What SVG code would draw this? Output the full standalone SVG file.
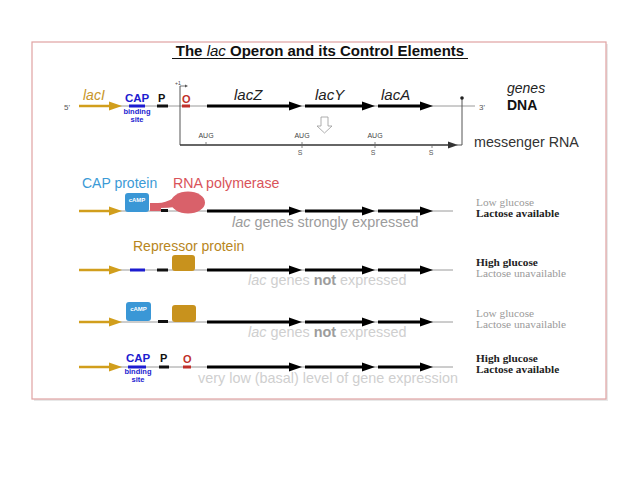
<svg xmlns="http://www.w3.org/2000/svg" width="638" height="478" viewBox="0 0 638 478">
<defs>
<style>
.s{font-family:"Liberation Sans",Arial,sans-serif}
.sf{font-family:"Liberation Serif","Times New Roman",serif;font-size:11.3px}
.thin{stroke:#9a9a9a;stroke-width:1}
.gene{stroke:#000;stroke-width:3}
.gold{stroke:#d19e1c;stroke-width:2.5}
.lbl{font-size:14.4px;fill:#9c9c9c}
.lbl2{font-size:14.4px;fill:#cfcfcf}
.dk{fill:#222;font-weight:bold}
.lt{fill:#9a9a9a}
</style>
<g id="genes">
<line class="gene" x1="207" y1="0" x2="292" y2="0"/>
<polygon points="289,-4.5 302,0 289,4.5" fill="#000"/>
<line class="gene" x1="305" y1="0" x2="365" y2="0"/>
<polygon points="362,-4.5 375,0 362,4.5" fill="#000"/>
<line class="gene" x1="378" y1="0" x2="423" y2="0"/>
<polygon points="420,-4.5 433,0 420,4.5" fill="#000"/>
</g>
<g id="goldarrow">
<line class="gold" x1="79" y1="0" x2="112" y2="0"/>
<polygon points="109,-4.5 122,0 109,4.5" fill="#d19e1c"/>
</g>
</defs>
<rect width="638" height="478" fill="#fff"/>
<rect x="34" y="44" width="574" height="357" fill="#e8e8e8"/>
<rect x="32" y="42" width="574" height="357" fill="#fff" stroke="#e0a2a2" stroke-width="1.2"/>

<g id="title">
<text class="s" x="320" y="56" text-anchor="middle" font-size="15" font-weight="bold" fill="#111">The <tspan font-style="italic" font-weight="normal">lac</tspan> Operon and its Control Elements</text>
<line x1="172" y1="58.5" x2="468" y2="58.5" stroke="#111" stroke-width="1"/>
</g>

<g id="connectors">
<line class="thin" x1="79" y1="106" x2="475" y2="106"/>
<line class="thin" x1="79" y1="211" x2="453" y2="211"/>
<line class="thin" x1="79" y1="270" x2="453" y2="270"/>
<line class="thin" x1="79" y1="322" x2="453" y2="322"/>
<line class="thin" x1="79" y1="367" x2="453" y2="367"/>
<line x1="180" y1="86" x2="180" y2="145" stroke="#555" stroke-width="1"/>
<line x1="180" y1="145" x2="450" y2="145" stroke="#333" stroke-width="1.5"/>
<polygon points="448,141.5 458,145 448,148.5" fill="#333"/>
<line x1="462" y1="98" x2="462" y2="145" stroke="#555" stroke-width="1"/>
<line x1="462" y1="145" x2="456" y2="145" stroke="#555" stroke-width="1"/>
<circle cx="462" cy="98" r="1.8" fill="#222"/>
<line x1="180" y1="86" x2="186" y2="86" stroke="#555" stroke-width="0.8"/>
<polygon points="185,84.5 188,86 185,87.5" fill="#555"/>
</g>

<g id="dna">
<text class="s" x="64" y="110" font-size="8" fill="#555">5'</text>
<use href="#goldarrow" y="106"/>
<text class="s" x="83" y="100" font-size="14" font-style="italic" fill="#c8962a">lacI</text>
<text class="s" x="125" y="102" font-size="11.5" font-weight="bold" fill="#1c1cd0">CAP</text>
<rect x="129" y="104.5" width="16" height="3" fill="#1c1cd0"/>
<text class="s" x="137" y="114" font-size="7.5" font-weight="bold" fill="#1c1cd0" text-anchor="middle">binding</text>
<text class="s" x="137" y="122" font-size="7.5" font-weight="bold" fill="#1c1cd0" text-anchor="middle">site</text>
<text class="s" x="158" y="102" font-size="11" font-weight="bold" fill="#111">P</text>
<rect x="157" y="104.5" width="11" height="3" fill="#111"/>
<text class="s" x="182" y="103" font-size="11" font-weight="bold" fill="#c0302a">O</text>
<rect x="182" y="104.5" width="8" height="3" fill="#c0302a"/>
<text class="s" x="175" y="85" font-size="5" fill="#444">+1</text>
<use href="#genes" y="106"/>
<text class="s" x="234" y="100" font-size="15" font-style="italic" fill="#222">lacZ</text>
<text class="s" x="315" y="100" font-size="15" font-style="italic" fill="#222">lacY</text>
<text class="s" x="381" y="100" font-size="15" font-style="italic" fill="#222">lacA</text>
<text class="s" x="479" y="110" font-size="8" fill="#555">3'</text>
<text class="s" x="507" y="93" font-size="14" font-style="italic" fill="#222">genes</text>
<text class="s" x="507" y="110" font-size="14" font-weight="bold" fill="#111">DNA</text>
</g>

<g id="mrna">
<text class="s" x="206" y="138" font-size="7" fill="#444" text-anchor="middle">AUG</text>
<text class="s" x="302" y="138" font-size="7" fill="#444" text-anchor="middle">AUG</text>
<text class="s" x="375" y="138" font-size="7" fill="#444" text-anchor="middle">AUG</text>
<line x1="206" y1="142" x2="206" y2="145" stroke="#666" stroke-width="0.8"/>
<line x1="302" y1="142" x2="302" y2="148" stroke="#666" stroke-width="0.8"/>
<line x1="375" y1="142" x2="375" y2="148" stroke="#666" stroke-width="0.8"/>
<line x1="432" y1="145" x2="432" y2="148" stroke="#666" stroke-width="0.8"/>
<text class="s" x="300" y="155" font-size="7" fill="#555" text-anchor="middle">S</text>
<text class="s" x="373" y="155" font-size="7" fill="#555" text-anchor="middle">S</text>
<text class="s" x="431" y="155" font-size="7" fill="#555" text-anchor="middle">S</text>
<polygon points="321,117 328,117 328,126 332,126 324.5,133 317,126 321,126" fill="#fff" stroke="#999" stroke-width="0.8"/>
<text class="s" x="474" y="147" font-size="14.3" fill="#333">messenger RNA</text>
</g>

<g id="row2">
<text class="s" x="82" y="188" font-size="14" fill="#3b9ad6">CAP protein</text>
<text class="s" x="173" y="188" font-size="14.2" fill="#d9535a">RNA polymerase</text>
<use href="#goldarrow" y="211"/>
<rect x="125" y="193" width="24" height="19" rx="3" fill="#3a97d6"/>
<text class="s" x="137" y="202" font-size="6" font-weight="bold" fill="#fff" text-anchor="middle">cAMP</text>
<rect x="150" y="203" width="11" height="8" fill="#d9616a"/>
<path d="M158,203 Q165,203 174,198 L175,207 Q168,208 160,208 Z" fill="#d9616a"/>
<rect x="161" y="209" width="7" height="3" fill="#111"/>
<ellipse cx="188" cy="202.5" rx="17" ry="11" fill="#d9616a"/>
<use href="#genes" y="211"/>
<text class="s lbl" x="232" y="227"><tspan font-style="italic">lac</tspan> genes strongly expressed</text>
<text class="sf lt" x="476" y="206">Low glucose</text>
<text class="sf dk" x="476" y="217">Lactose available</text>
</g>

<g id="row3">
<text class="s" x="133" y="251" font-size="14" fill="#b8861c">Repressor protein</text>
<use href="#goldarrow" y="270"/>
<rect x="130" y="268.5" width="15" height="3" fill="#1c1cd0"/>
<rect x="157" y="268.5" width="11" height="3" fill="#111"/>
<rect x="172" y="255" width="23" height="16" rx="3" fill="#c8921d"/>
<use href="#genes" y="270"/>
<text class="s lbl2" x="248" y="285"><tspan font-style="italic">lac</tspan> genes <tspan font-weight="bold" fill="#9c9c9c">not</tspan> expressed</text>
<text class="sf dk" x="476" y="266">High glucose</text>
<text class="sf lt" x="476" y="277">Lactose unavailable</text>
</g>

<g id="row4">
<use href="#goldarrow" y="322"/>
<rect x="126" y="302" width="25" height="19" rx="3" fill="#3a97d6"/>
<text class="s" x="138.5" y="311" font-size="6" font-weight="bold" fill="#fff" text-anchor="middle">cAMP</text>
<rect x="158" y="320" width="10" height="3" fill="#111"/>
<rect x="172" y="305" width="24" height="17" rx="3" fill="#c8921d"/>
<use href="#genes" y="322"/>
<text class="s lbl2" x="248" y="337"><tspan font-style="italic">lac</tspan> genes <tspan font-weight="bold" fill="#9c9c9c">not</tspan> expressed</text>
<text class="sf lt" x="476" y="317">Low glucose</text>
<text class="sf lt" x="476" y="328">Lactose unavailable</text>
</g>

<g id="row5">
<use href="#goldarrow" y="367"/>
<text class="s" x="126" y="362" font-size="11.5" font-weight="bold" fill="#1c1cd0">CAP</text>
<rect x="128" y="365.5" width="18" height="3" fill="#1c1cd0"/>
<text class="s" x="138" y="374" font-size="7.5" font-weight="bold" fill="#1c1cd0" text-anchor="middle">binding</text>
<text class="s" x="138" y="382" font-size="7.5" font-weight="bold" fill="#1c1cd0" text-anchor="middle">site</text>
<text class="s" x="160" y="362" font-size="11" font-weight="bold" fill="#111">P</text>
<rect x="159" y="365.5" width="10" height="3" fill="#111"/>
<text class="s" x="183" y="363" font-size="11" font-weight="bold" fill="#c0302a">O</text>
<rect x="183" y="365.5" width="8" height="3" fill="#c0302a"/>
<use href="#genes" y="367"/>
<text class="s lbl2" x="198" y="383">very low (basal) level of gene expression</text>
<text class="sf dk" x="476" y="362">High glucose</text>
<text class="sf dk" x="476" y="373">Lactose available</text>
</g>
</svg>
